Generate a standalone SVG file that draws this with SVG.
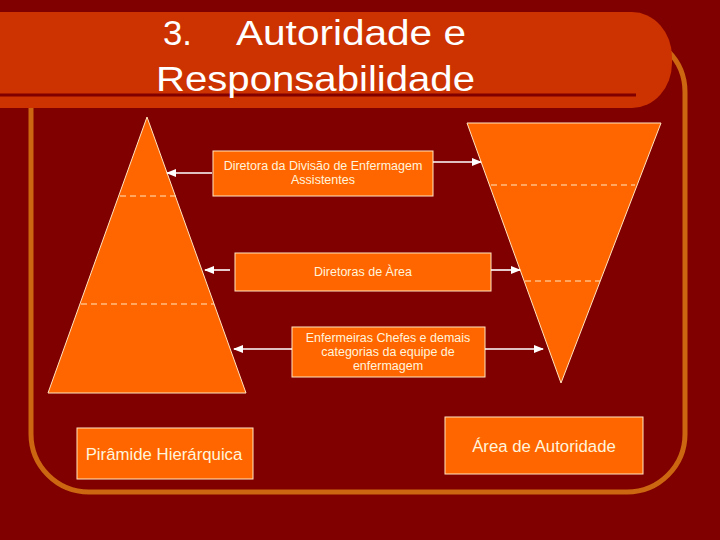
<svg xmlns="http://www.w3.org/2000/svg" width="720" height="540" viewBox="0 0 720 540">
<defs>
<marker id="ah" markerUnits="userSpaceOnUse" markerWidth="10" markerHeight="8" refX="9" refY="4" orient="auto">
<path d="M0,0 L10,4 L0,8 Z" fill="#FFFFFF"/>
</marker>
<style>
.box{fill:#FF6600;stroke:#FFE6C0;stroke-width:1}
.shape{fill:#FF6600;stroke:#FFE6C0;stroke-width:1}
.dash{stroke:#FFE6C0;stroke-width:1;stroke-dasharray:6,4;fill:none}
.t{font-family:"Liberation Sans",Arial,sans-serif;fill:#FFF4DC;text-anchor:middle}
.s{font-size:12.5px}
.b{font-size:16.8px}
.title{font-family:"Liberation Sans",Arial,sans-serif;fill:#FFFFFF;font-size:35px}
.conn line{stroke:#FFFFFF;stroke-width:1.6;marker-end:url(#ah)}
</style>
</defs>
<rect x="0" y="0" width="720" height="540" fill="#800000"/>
<g id="frame">
<rect x="31" y="34" width="654" height="458" rx="58" ry="58" fill="none" stroke="#CC6611" stroke-width="5"/>
</g>
<g id="title-band">
<rect x="-60" y="12" width="732" height="96" rx="40" ry="45" fill="#CC3300"/>
<line x1="0" y1="95" x2="636" y2="95" stroke="#800000" stroke-width="3"/>
<text class="title" x="163" y="45" textLength="29" lengthAdjust="spacingAndGlyphs">3.</text>
<text class="title" x="236" y="45" textLength="230" lengthAdjust="spacingAndGlyphs">Autoridade e</text>
<text class="title" x="156" y="91" textLength="319" lengthAdjust="spacingAndGlyphs">Responsabilidade</text>
</g>
<g id="pyramid">
<polygon class="shape" points="147,117 48,393 246,393"/>
<line class="dash" x1="120" y1="196" x2="178" y2="196"/>
<line class="dash" x1="81" y1="304" x2="214" y2="304"/>
</g>
<g id="inverted-triangle">
<polygon class="shape" points="467,123 661,123 561,383"/>
<line class="dash" x1="491" y1="185" x2="635" y2="185"/>
<line class="dash" x1="525" y1="281" x2="600" y2="281"/>
</g>
<g id="box-diretora">
<rect class="box" x="213" y="151" width="220" height="45"/>
<text class="t s" x="323" y="170">Diretora da Divisão de Enfermagem</text>
<text class="t s" x="323" y="184">Assistentes</text>
</g>
<g id="box-diretoras-area">
<rect class="box" x="235" y="253" width="256" height="38"/>
<text class="t s" x="363" y="276">Diretoras de Àrea</text>
</g>
<g id="box-enfermeiras">
<rect class="box" x="292" y="327" width="193" height="50"/>
<text class="t s" x="388" y="342">Enfermeiras Chefes e demais</text>
<text class="t s" x="388" y="356">categorias da equipe de</text>
<text class="t s" x="388" y="370">enfermagem</text>
</g>
<g id="box-piramide">
<rect class="box" x="77" y="428" width="176" height="51"/>
<text class="t b" x="164" y="460">Pirâmide Hierárquica</text>
</g>
<g id="box-area">
<rect class="box" x="445" y="417" width="198" height="57"/>
<text class="t b" x="544" y="452">Área de Autoridade</text>
</g>
<g id="connectors" class="conn">
<line x1="212" y1="173" x2="167" y2="173"/>
<line x1="433" y1="162" x2="481" y2="162"/>
<line x1="230" y1="270" x2="205" y2="270"/>
<line x1="491" y1="270" x2="520" y2="270"/>
<line x1="292" y1="349" x2="234" y2="349"/>
<line x1="485" y1="349" x2="543" y2="349"/>
</g>
</svg>
